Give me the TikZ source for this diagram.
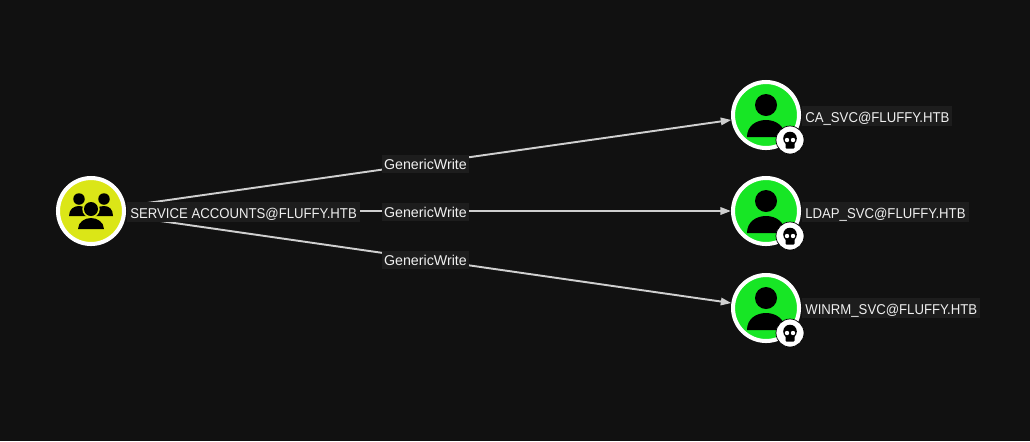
\documentclass[tikz,border=0pt]{standalone}
\usepackage{fontspec}
\setmainfont{Liberation Sans}
\newfontfamily\namefont[FakeStretch=0.925]{Liberation Sans}
\usetikzlibrary{arrows.meta}
\definecolor{pagebg}{HTML}{111111}
\definecolor{labelbg}{HTML}{1D1D1D}
\definecolor{labeltext}{HTML}{F0F0F0}
\definecolor{edgecol}{HTML}{CFCFCF}
\definecolor{groupcol}{HTML}{DBE617}
\definecolor{usercol}{HTML}{17E625}
\tikzset{
  groupnode/.style={draw=white, line width=2.3pt, circle, inner sep=0pt, minimum size=1.32cm, fill=groupcol},
  usernode/.style={draw=white, line width=2.3pt, circle, inner sep=0pt, minimum size=1.32cm, fill=usercol},
  badgenode/.style={draw=black, line width=0.4pt, circle, inner sep=0pt, minimum size=0.56cm, fill=white},
  namelabel/.style={anchor=west, fill=labelbg, text=labeltext, inner xsep=0.06cm, inner ysep=0pt, font=\namefont\fontsize{8.1pt}{10pt}\selectfont, text height=9.47pt, text depth=1.87pt},
  edgelabel/.style={pos=0.495, yshift=-0.3pt, fill=labelbg, text=labeltext, inner xsep=0.05cm, inner ysep=0pt, font=\fontsize{8.1pt}{10pt}\selectfont, text height=8.25pt, text depth=1.95pt},
  edgeline/.style={draw=edgecol, line width=1.1pt, shorten <=3pt, -{Triangle[length=6pt,width=4.2pt]}},
  usericon/.pic={
    \fill[black] (0,-10) circle (0.22cm);
    \fill[black] (-19,22) .. controls (-19,11) and (-10,5) .. (0,5) .. controls (10,5) and (19,11) .. (19,22) -- cycle;
  },
  skullicon/.pic={
    \fill[black] (0,-1.5) circle (0.136cm);
    \fill[black, rounded corners=0.5pt] (-4.5,2) rectangle (4.5,8.5);
    \fill[white] (-3,0) circle (0.044cm) (3,0) circle (0.044cm);
  },
  groupicon/.pic={
    \fill[black] (-12,-12) circle (0.115cm) (13,-12) circle (0.115cm);
    \fill[black] (-22,5) .. controls (-22,-2) and (-17,-5) .. (-12,-5) .. controls (-7,-5) and (-2,-2) .. (-2,5) -- cycle;
    \fill[black] (2,5) .. controls (2,-2) and (7,-5) .. (13,-5) .. controls (18,-5) and (22,-2) .. (22,5) -- cycle;
    \fill[groupcol] (0,-2) circle (0.175cm);
    \fill[black] (0,-2) circle (0.14cm);
    \fill[black] (-13,18) .. controls (-13,11) and (-6,7) .. (0,7) .. controls (6,7) and (13,11) .. (13,18) -- cycle;
  },
}
\begin{document}
\begin{tikzpicture}[x=0.02cm, y=-0.02cm]
  \fill[pagebg] (0,0) rectangle (1030,441);
  % Accounts
  \node[groupnode] (svc) at (91,211) {};
  \node[usernode] (casvc) at (766,115) {};
  \node[usernode] (ldapsvc) at (766,211) {};
  \node[usernode] (winrmsvc) at (766,308) {};
  % Draw the edges
  \foreach \target in {casvc, ldapsvc, winrmsvc} {
    \draw[edgeline] (svc) -- node[edgelabel] (label\target) {GenericWrite} (\target);
  }
  \pic at (91,211) {groupicon};
  \foreach \target/\badge in {casvc/cabadge, ldapsvc/ldapbadge, winrmsvc/winrmbadge} {
    \pic at (\target) {usericon};
    \node[badgenode] (\badge) at ([xshift=0.48cm,yshift=-0.5cm]\target) {};
    \pic at (\badge) {skullicon};
  }
  % Names
  \node[namelabel] (svcname) at (127,211.7) {SERVICE ACCOUNTS@FLUFFY.HTB};
  \node[namelabel] (caname) at (802,115.7) {CA\_SVC@FLUFFY.HTB};
  \node[namelabel] (ldapname) at (802,211.7) {LDAP\_SVC@FLUFFY.HTB};
  \node[namelabel] (winrmname) at (802,308) {WINRM\_SVC@FLUFFY.HTB};
\end{tikzpicture}
\end{document}
